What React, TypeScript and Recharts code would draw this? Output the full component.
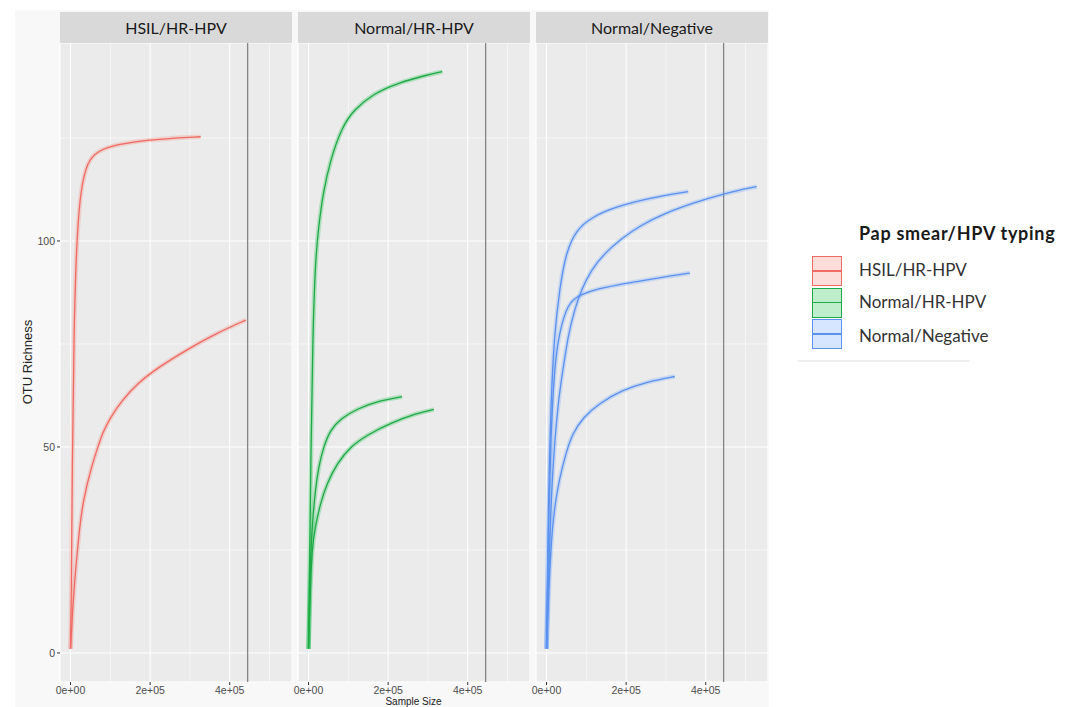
import React from 'react';
import { LineChart, Line, XAxis, YAxis, CartesianGrid, ReferenceLine } from 'recharts';

// ---- categories ----
const panelNames = ['HSIL/HR-HPV', 'Normal/HR-HPV', 'Normal/Negative'];
const legendTitle = 'Pap smear/HPV typing';
const groupFill = ['#F8766D', '#00BA38', '#619CFF'];
const groupLine = ['#EE6A62', '#1FA846', '#5A90EE'];

// ---- ticks ----
const xTicks = [0, 200000, 400000];
const xTickLabels = ['0e+00', '2e+05', '4e+05'];
const xMinorTicks = [100000, 300000, 500000];
const yTicks = [0, 50, 100];
const yTickLabels = ['0', '50', '100'];
const yMinorTicks = [25, 75, 125];
const cutoffSize = 445000;

// ---- HSIL/HR-HPV samples ----
const hsil1Size = [0, 1800, 4300, 8600, 15300, 25400, 42300, 67500, 113800, 223000, 327000];
const hsil1Otu = [1, 12.4, 45.8, 79.2, 100.1, 112.6, 119.3, 121.8, 123.5, 124.8, 125.3];
const hsil2Size = [0, 4800, 12400, 21200, 31300, 54800, 70000, 80000, 101200, 130500, 168400, 223200, 290600, 366400, 440400];
const hsil2Otu = [1, 10, 20, 29, 37.1, 46, 50.3, 53.3, 57.4, 61.4, 65.5, 69.5, 73.5, 77.6, 80.8];

// ---- Normal/HR-HPV samples ----
const nh1Size = [0, 2800, 6300, 10400, 17100, 25400, 36500, 54800, 84300, 113500, 163800, 222700, 298000, 336000];
const nh1Otu = [1, 23, 50, 76, 95.4, 103.5, 111.6, 119.7, 127.7, 131.8, 135.8, 138.3, 140.3, 141.1];
const nh2Size = [0, 2500, 6300, 11300, 17100, 25400, 38000, 54800, 80000, 122000, 180600, 235000];
const nh2Otu = [1, 14, 26.6, 33.1, 39.6, 45.2, 50.1, 54.1, 56.8, 59.3, 61.3, 62.2];
const nh3Size = [0, 3500, 8800, 17100, 29700, 46500, 71700, 105200, 147200, 205800, 273000, 314800];
const nh3Otu = [1, 13, 25.8, 30.7, 36.3, 41.2, 46, 50.1, 52.9, 55.8, 58.2, 59.1];

// ---- Normal/Negative samples ----
const nn1Size = [0, 2300, 4800, 10800, 19100, 33500, 48600, 73800, 115600, 174600, 258400, 356000];
const nn1Otu = [1, 18, 36.3, 60.6, 76.8, 88.9, 97, 102.7, 105.9, 108.3, 110.4, 112];
const nn2Size = [0, 3300, 8300, 14900, 28500, 41100, 53700, 70300, 87200, 112300, 145800, 187900, 238200, 297000, 364300, 448100, 528000];
const nn2Otu = [1, 12.1, 28.2, 44.4, 60.6, 68.7, 76.8, 83.3, 88.1, 93, 97, 100.6, 103.9, 106.7, 109.1, 111.6, 113.2];
const nn3Size = [0, 2300, 5800, 10800, 17400, 24200, 32500, 43100, 54400, 67000, 87200, 124900, 175300, 238300, 297000, 360000];
const nn3Otu = [1, 15, 35, 52, 65, 72.5, 77.5, 81.5, 84.2, 85.8, 87, 88.3, 89.3, 90.3, 91.3, 92.2];
const nn4Size = [0, 6500, 10800, 14900, 21700, 31700, 48600, 65200, 92200, 131200, 189200, 255900, 322200];
const nn4Otu = [1, 17.5, 24.5, 30.5, 36.3, 42, 48.5, 53.3, 57.2, 60.5, 63.8, 65.9, 67.1];

const toPoints = (sizes: number[], otus: number[]) => sizes.map((x, i) => ({ x, y: otus[i] }));

const panelCurves = [
  [toPoints(hsil1Size, hsil1Otu), toPoints(hsil2Size, hsil2Otu)],
  [toPoints(nh1Size, nh1Otu), toPoints(nh2Size, nh2Otu), toPoints(nh3Size, nh3Otu)],
  [toPoints(nn1Size, nn1Otu), toPoints(nn2Size, nn2Otu), toPoints(nn3Size, nn3Otu), toPoints(nn4Size, nn4Otu)],
];

const X_DOMAIN: [number, number] = [-26500, 556500];
const Y_DOMAIN: [number, number] = [-7.05, 148.05];

const tickFont = '"Liberation Sans", Arial, sans-serif';
const labelFont = 'Lato, "Open Sans", sans-serif';

const PLOT_TOP = 43;
const PLOT_H = 639;
const XAXIS_H = 25;
const PANEL_W = 232;
const panelLefts = [60, 298, 536];

function Panel({ idx }: { idx: number }) {
  const showY = idx === 0;
  const yW = showY ? 60 : 0;
  const padL = showY ? 0 : 20;
  const curves = panelCurves[idx];
  return (
    <div style={{ position: 'absolute', left: panelLefts[idx] - yW - padL, top: PLOT_TOP }}>
      <LineChart
        width={PANEL_W + yW + padL}
        height={PLOT_H + XAXIS_H}
        margin={{ top: 0, right: 0, bottom: 0, left: padL }}
      >
        <CartesianGrid fill="#EBEBEB" stroke="#FFFFFF" strokeWidth={1.1} />
        <XAxis
          type="number"
          dataKey="x"
          domain={X_DOMAIN}
          allowDataOverflow
          ticks={xTicks}
          interval={0}
          tickFormatter={(v: number) => xTickLabels[xTicks.indexOf(v)] ?? ''}
          height={XAXIS_H}
          tickSize={3}
          tickMargin={2}
          axisLine={false}
          tickLine={{ stroke: '#333333' }}
          tick={{ fill: '#4D4D4D', fontSize: 10.5, fontFamily: tickFont }}
        />
        <YAxis
          type="number"
          dataKey="y"
          domain={Y_DOMAIN}
          allowDataOverflow
          ticks={yTicks}
          interval={0}
          width={yW}
          hide={!showY}
          tickFormatter={(v: number) => yTickLabels[yTicks.indexOf(v)] ?? ''}
          tickSize={3}
          tickMargin={2}
          axisLine={false}
          tickLine={{ stroke: '#333333' }}
          tick={{ fill: '#4D4D4D', fontSize: 10.5, fontFamily: tickFont }}
        />
        {xMinorTicks.map((v) => (
          <ReferenceLine key={'mx' + v} x={v} stroke="#FFFFFF" strokeWidth={0.55} />
        ))}
        {yMinorTicks.map((v) => (
          <ReferenceLine key={'my' + v} y={v} stroke="#FFFFFF" strokeWidth={0.55} />
        ))}
        <ReferenceLine x={cutoffSize} stroke="#858585" strokeWidth={1.3} />
        {curves.map((pts, i) => (
          <Line
            key={'rib' + i}
            data={pts}
            dataKey="y"
            type="basis"
            dot={false}
            activeDot={false}
            stroke={groupFill[idx]}
            strokeOpacity={0.25}
            strokeWidth={4.5}
            isAnimationActive={false}
          />
        ))}
        {curves.map((pts, i) => (
          <Line
            key={'ln' + i}
            data={pts}
            dataKey="y"
            type="basis"
            dot={false}
            activeDot={false}
            stroke={groupLine[idx]}
            strokeWidth={1.3}
            isAnimationActive={false}
          />
        ))}
      </LineChart>
    </div>
  );
}

function LegendKey({ idx, top }: { idx: number; top: number }) {
  return (
    <div
      style={{
        position: 'absolute',
        left: 812,
        top,
        width: 28,
        height: 28,
        border: `1.5px solid ${groupLine[idx]}`,
        background: groupFill[idx] + '40',
        boxSizing: 'content-box',
      }}
    >
      <div
        style={{
          position: 'absolute',
          left: 0,
          right: 0,
          top: 13,
          height: 1.5,
          background: groupLine[idx],
        }}
      />
    </div>
  );
}

export default function App() {
  const keyTops = [256, 287.5, 319];
  const labelCenters = [270, 302, 336];
  return (
    <div
      style={{
        position: 'absolute',
        left: 0,
        top: 0,
        width: 1073,
        height: 707,
        background: '#FFFFFF',
        overflow: 'hidden',
      }}
    >
      <div style={{ position: 'absolute', left: 15, top: 10, width: 754, height: 697, background: '#F8F8F8' }} />
      {panelNames.map((name, i) => (
        <div
          key={name}
          style={{
            position: 'absolute',
            left: panelLefts[i],
            top: 12,
            width: PANEL_W,
            height: 31,
            background: '#D9D9D9',
            color: '#1A1A1A',
            fontFamily: labelFont,
            fontSize: 16,
            lineHeight: '31px',
            textAlign: 'center',
          }}
        >
          {name}
        </div>
      ))}
      {panelNames.map((_, i) => (
        <Panel key={i} idx={i} />
      ))}
      <div
        style={{
          position: 'absolute',
          left: 27.5 - 60,
          top: 362 - 8,
          width: 120,
          height: 16,
          lineHeight: '16px',
          textAlign: 'center',
          transform: 'rotate(-90deg)',
          fontFamily: tickFont,
          fontSize: 13,
          color: '#222222',
        }}
      >
        OTU Richness
      </div>
      <div
        style={{
          position: 'absolute',
          left: 413.5 - 60,
          top: 697,
          width: 120,
          height: 10,
          lineHeight: '10px',
          textAlign: 'center',
          fontFamily: tickFont,
          fontSize: 10,
          color: '#222222',
        }}
      >
        Sample Size
      </div>
      {/* legend */}
      <div
        style={{
          position: 'absolute',
          left: 859,
          top: 222,
          fontFamily: labelFont,
          fontWeight: 700,
          fontSize: 18,
          letterSpacing: 0.7,
          lineHeight: '22px',
          color: '#1A1A1A',
          whiteSpace: 'nowrap',
        }}
      >
        {legendTitle}
      </div>
      {panelNames.map((name, i) => (
        <React.Fragment key={'lg' + name}>
          <LegendKey idx={i} top={keyTops[i]} />
          <div
            style={{
              position: 'absolute',
              left: 859,
              top: labelCenters[i] - 11,
              fontFamily: labelFont,
              fontSize: 17,
              lineHeight: '22px',
              color: '#333333',
              whiteSpace: 'nowrap',
            }}
          >
            {name}
          </div>
        </React.Fragment>
      ))}
      <div style={{ position: 'absolute', left: 797, top: 360, width: 173, height: 2, background: '#F0F0F0' }} />
    </div>
  );
}
